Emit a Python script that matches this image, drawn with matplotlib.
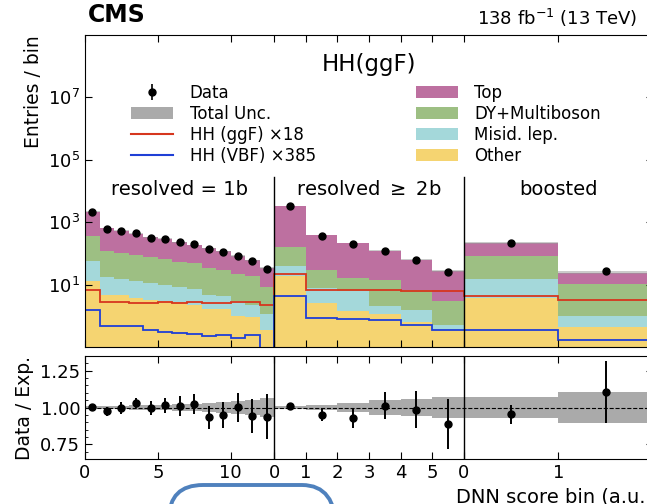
import numpy as np
import matplotlib
matplotlib.use("Agg")
import matplotlib.pyplot as plt
import matplotlib.transforms as mtransforms
from matplotlib.patches import Patch, FancyBboxPatch
from matplotlib.lines import Line2D

# --- categories: three analysis regions, each with its own DNN-score bins ---
regions = ["resolved = 1b", r"resolved $\geq$ 2b", "boosted"]
n_bins = [13, 6, 2]
tick_vals = [[0, 5, 10], [0, 1, 2, 3, 4, 5], [0, 1]]

# --- yields per bin (resolved 1b | resolved >=2b | boosted) ---
data = [2190, 620, 540, 445, 323, 300, 230, 193, 135, 110, 83, 56, 32,
        3390, 363, 200, 123, 62, 25,
        209, 27]
data_relerr = [0.01, 0.029, 0.04, 0.034, 0.05, 0.051, 0.067, 0.068, 0.077, 0.089, 0.10, 0.116, 0.154,
               0.01, 0.043, 0.068, 0.091, 0.125, 0.17,
               0.065, 0.21]
top = [1827, 514, 436, 340, 246, 228, 173, 138, 110, 86, 61, 40, 26,
       3184, 352, 199, 107, 56, 25,
       139, 13.9]
dy_multiboson = [304, 105, 89.5, 78, 67, 58, 46, 43, 30, 26, 19, 17, 7,
                 125, 22, 10.2, 12.4, 5.3, 2.6,
                 64.8, 9.5]
misid_lep = [46, 12.6, 11, 9, 7.9, 6.7, 5.6, 4.9, 3.2, 2.6, 1.9, 1.4, 0.74,
             21, 5.3, 4.7, 0.94, 0.96, 0.13,
             11.4, 0.59]
other = [12.7, 4.8, 4.5, 3.85, 3.3, 2.9, 2.7, 2.3, 1.6, 1.6, 1.02, 0.89, 0.36,
         19.4, 2.6, 1.41, 1.1, 0.63, 0.36,
         3.8, 0.43]
tot_relunc = [0.008, 0.01, 0.012, 0.014, 0.017, 0.019, 0.021, 0.024, 0.032, 0.036, 0.045, 0.052, 0.066,
              0.008, 0.017, 0.03, 0.05, 0.055, 0.068,
              0.068, 0.108]
hh_ggf_x18 = [6.5, 2.7, 2.7, 2.65, 2.6, 2.7, 2.65, 2.75, 2.6, 2.6, 2.75, 2.75, 2.3,
              21.9, 6.9, 6.9, 6.9, 6.4, 6.4,
              4.2, 3.15]
hh_vbf_x385 = [1.58, 0.47, 0.47, 0.47, 0.34, 0.30, 0.29, 0.27, 0.22, 0.24, 0.19, 0.24, 0.0,
               4.2, 0.87, 0.77, 0.71, 0.49, 0.34,
               0.36, 0.17]

COL = {"Top": "#bd70a0", "DY+Multiboson": "#9dbf83", "Misid. lep.": "#a4d8da", "Other": "#f5d471"}
FLOOR = 1e-3   # below the y range, stands in for zero on log axis

# each region is squeezed into one unit of x
edges = np.concatenate([np.linspace(i, i + 1, n + 1)[:-1] for i, n in enumerate(n_bins)] + [[3.0]])
centers = 0.5 * (edges[:-1] + edges[1:])
data = np.array(data, float)

stack = [("Other", other), ("Misid. lep.", misid_lep), ("DY+Multiboson", dy_multiboson), ("Top", top)]
cum = np.cumsum([np.array(v, float) for _, v in stack], axis=0)
total = cum[-1]
unc = np.array(tot_relunc)

fig = plt.figure(figsize=(6.47, 5.04), dpi=100)
W = 568 / 647
ax = fig.add_axes([85 / 647, 1 - 347 / 504, W, 312 / 504])
rx = fig.add_axes([85 / 647, 1 - 459 / 504, W, 103 / 504], sharex=ax)

# --- main panel ---
base = np.full(len(centers), FLOOR)
for (name, _), c in zip(stack, cum):
    ax.stairs(c + FLOOR, edges, baseline=base, fill=True, color=COL[name], lw=0)
    base = c + FLOOR
ax.stairs(total * (1 + unc), edges, baseline=total * (1 - unc), fill=True, color="#999999", alpha=0.5, lw=0)
ax.stairs(np.array(hh_ggf_x18), edges, baseline=None, color="#d6361e", lw=1.3)
ax.stairs(np.maximum(hh_vbf_x385, FLOOR), edges, baseline=None, color="#1f3fd6", lw=1.3)
dat = ax.errorbar(centers, data, yerr=data * np.array(data_relerr), fmt="o", color="k",
                  ms=5, elinewidth=1.2, capsize=0, label="Data")

ax.set_yscale("log")
ax.set_ylim(0.1, 1e9)
ax.set_xlim(0, 3)
ax.set_yticks([1e1, 1e3, 1e5, 1e7])
ax.minorticks_off()
ax.set_ylabel("Entries / bin", fontsize=13.5, loc="top")
ax.tick_params(labelbottom=False)

blend = mtransforms.blended_transform_factory(ax.transData, ax.transAxes)
for i, name in enumerate(regions):
    ax.text(i + 0.5, 0.505, name, transform=blend, ha="center", va="center", fontsize=14)
for b in [1, 2]:
    ax.axvline(b, ymax=0.545, color="k", lw=1)

ax.text(0.5, 0.905, "HH(ggF)", transform=ax.transAxes, ha="center", va="center", fontsize=16.5)
ax.text(0.005, 1.025, "CMS", transform=ax.transAxes, ha="left", va="bottom", fontsize=17, fontweight="bold")
ax.text(0.69, 1.02, r"138 fb$^{-1}$ (13 TeV)", transform=ax.transAxes, ha="left", va="bottom", fontsize=13)

handles = [dat, Patch(fc="#aaaaaa"),
           Line2D([], [], color="#d6361e", lw=1.5), Line2D([], [], color="#1f3fd6", lw=1.5),
           Patch(fc=COL["Top"]), Patch(fc=COL["DY+Multiboson"]), Patch(fc=COL["Misid. lep."]), Patch(fc=COL["Other"])]
labels = ["Data", "Total Unc.", "HH (ggF) ×18", "HH (VBF) ×385",
          "Top", "DY+Multiboson", "Misid. lep.", "Other"]
ax.legend(handles, labels, ncol=2, loc="upper left", bbox_to_anchor=(0.07, 0.865), frameon=False,
          fontsize=12, handlelength=2.5, handletextpad=1.0, columnspacing=6.0, labelspacing=0.18,
          borderaxespad=0)

# --- ratio panel ---
rx.stairs(1 + unc, edges, baseline=1 - unc, fill=True, color="#aaaaaa", lw=0)
rx.axhline(1.0, color="k", ls="--", lw=0.8)
rx.errorbar(centers, data / total, yerr=np.array(data_relerr), fmt="o", color="k",
            ms=5, elinewidth=1.4, capsize=0)
for b in [1, 2]:
    rx.axvline(b, color="k", lw=1)
rx.set_ylim(0.65, 1.35)
rx.set_yticks([0.75, 1.0, 1.25])
rx.set_yticks(np.arange(0.65, 1.351, 0.05), minor=True)
rx.set_ylabel("Data / Exp.", fontsize=13.5)
rx.set_xlabel("DNN score bin (a.u.)", fontsize=14, loc="right")

pos, lab = [], []
for i, (n, tv) in enumerate(zip(n_bins, tick_vals)):
    for t in tv:
        pos.append(i + t / n)
        lab.append(str(t))
rx.set_xticks(pos)
rx.set_xticklabels(lab)

for a in (ax, rx):
    a.tick_params(which="both", direction="in", top=True, right=True, labelsize=13)
    a.tick_params(which="major", length=5)
    a.tick_params(axis="x", which="minor", bottom=False, top=False)
fig.align_ylabels([ax, rx])

# highlight box drawn over the bottom edge of the picture
box = FancyBboxPatch((1.69, -0.6), 1.67, 0.79, boxstyle="round,pad=0,rounding_size=0.34",
                     transform=fig.dpi_scale_trans, fill=False, ec="#4f81bd", lw=2.8)
fig.add_artist(box)

fig.savefig("out.png", dpi=100)
